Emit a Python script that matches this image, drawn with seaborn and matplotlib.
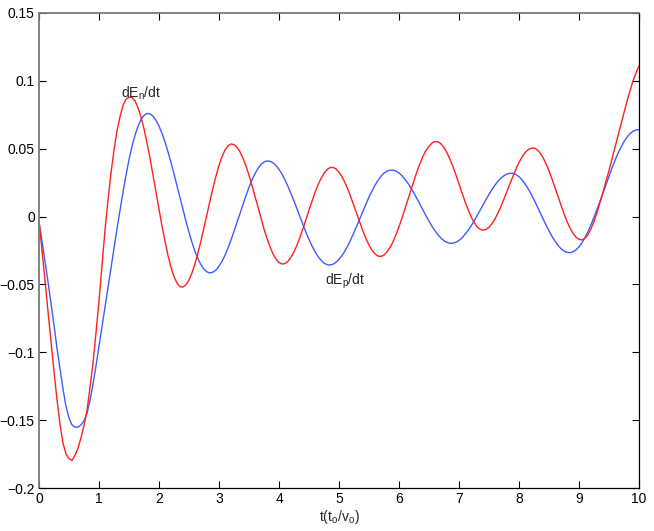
import numpy as np
import matplotlib
matplotlib.use("Agg")
import matplotlib.pyplot as plt
import seaborn as sns

# time axis, t(t_o/v_o), sampled every 0.05
t = np.linspace(0, 10, 201)

# dE_n/dt (red)
dEn = [-0.003, -0.025, -0.047, -0.070, -0.092, -0.114, -0.135, -0.153, -0.167, -0.175,
       -0.1785, -0.1797, -0.176, -0.1705, -0.163, -0.154, -0.143, -0.126, -0.108, -0.0855,
       -0.062, -0.036, -0.010, 0.012, 0.032, 0.049, 0.063, 0.0735, 0.082, 0.0865,
       0.0880, 0.0878, 0.0853, 0.0802, 0.0734, 0.0647, 0.0544, 0.043, 0.0306, 0.018,
       0.0053, -0.007, -0.0184, -0.0287, -0.0374, -0.0443, -0.049, -0.0516, -0.0519, -0.0502,
       -0.0467, -0.0415, -0.0348, -0.0267, -0.0178, -0.0082, 0.0017, 0.0117, 0.0212, 0.0299,
       0.0377, 0.0441, 0.049, 0.0521, 0.0535, 0.0530, 0.0511, 0.0477, 0.043, 0.0372,
       0.0304, 0.0229, 0.0149, 0.0068, -0.0013, -0.0090, -0.0162, -0.0223, -0.0275, -0.0314,
       -0.0339, -0.0350, -0.0346, -0.0329, -0.0300, -0.0259, -0.0210, -0.0152, -0.0088, -0.0021,
       0.0047, 0.0114, 0.0177, 0.0234, 0.0281, 0.0319, 0.0346, 0.0361, 0.0362, 0.0351,
       0.0328, 0.0294, 0.0250, 0.0199, 0.0140, 0.0078, 0.0015, -0.0048, -0.0108, -0.0163,
       -0.0210, -0.0248, -0.0275, -0.0291, -0.0294, -0.0283, -0.0261, -0.0228, -0.0186, -0.0133,
       -0.0075, -0.0010, 0.0059, 0.0129, 0.0199, 0.0268, 0.0333, 0.0391, 0.0444, 0.0487,
       0.0519, 0.0542, 0.0553, 0.0551, 0.0536, 0.0509, 0.0470, 0.0422, 0.0367, 0.0305,
       0.0240, 0.0175, 0.0111, 0.0053, 0.0000, -0.0043, -0.0074, -0.0093, -0.0100, -0.0095,
       -0.0079, -0.0052, -0.0017, 0.0026, 0.0075, 0.0130, 0.0186, 0.0243, 0.0298, 0.0351,
       0.0398, 0.0438, 0.0470, 0.0492, 0.0504, 0.0505, 0.0494, 0.0470, 0.0435, 0.0390,
       0.0337, 0.0277, 0.0213, 0.0147, 0.0083, 0.0021, -0.0036, -0.0084, -0.0124, -0.0152,
       -0.0168, -0.0172, -0.0160, -0.0133, -0.0090, -0.0035, 0.0030, 0.0103, 0.0180, 0.0260,
       0.0340, 0.0425, 0.0510, 0.0595, 0.0680, 0.0765, 0.0850, 0.0927, 0.1000, 0.1060,
       0.1110]

# dE_p/dt (blue)
dEp = [-0.004, -0.018, -0.033, -0.048, -0.064, -0.080, -0.097, -0.112, -0.127, -0.140,
       -0.1485, -0.1535, -0.1552, -0.1551, -0.1535, -0.1505, -0.145, -0.1355, -0.1235, -0.110,
       -0.0955, -0.081, -0.067, -0.0525, -0.038, -0.0235, -0.009, 0.0047, 0.018, 0.0305,
       0.042, 0.0518, 0.060, 0.0665, 0.0715, 0.0745, 0.076, 0.0757, 0.074, 0.0709,
       0.0667, 0.0613, 0.055, 0.0477, 0.0398, 0.0314, 0.0226, 0.0139, 0.005, -0.0035,
       -0.0115, -0.0190, -0.0257, -0.0311, -0.0356, -0.0388, -0.0408, -0.0415, -0.0409, -0.0394,
       -0.0366, -0.0330, -0.0285, -0.0232, -0.0172, -0.0109, -0.0043, 0.0024, 0.0091, 0.0155,
       0.0215, 0.0269, 0.0316, 0.0355, 0.0384, 0.0402, 0.0410, 0.0407, 0.0396, 0.0376,
       0.0348, 0.0313, 0.0269, 0.0222, 0.0169, 0.0115, 0.0056, -0.0002, -0.0060, -0.0117,
       -0.0169, -0.0216, -0.0259, -0.0294, -0.0322, -0.0343, -0.0354, -0.0357, -0.0351, -0.0337,
       -0.0316, -0.0288, -0.0253, -0.0212, -0.0166, -0.0117, -0.0065, -0.0013, 0.0041, 0.0093,
       0.0144, 0.0189, 0.0231, 0.0266, 0.0297, 0.0320, 0.0335, 0.0342, 0.0342, 0.0335,
       0.0321, 0.0301, 0.0274, 0.0245, 0.0210, 0.0172, 0.0132, 0.0090, 0.0048, 0.0006,
       -0.0034, -0.0072, -0.0105, -0.0135, -0.0159, -0.0178, -0.0191, -0.0197, -0.0196, -0.0189,
       -0.0176, -0.0157, -0.0131, -0.0103, -0.0070, -0.0034, 0.0005, 0.0045, 0.0085, 0.0125,
       0.0163, 0.0199, 0.0232, 0.0260, 0.0283, 0.0301, 0.0313, 0.0319, 0.0318, 0.0309,
       0.0294, 0.0271, 0.0241, 0.0207, 0.0167, 0.0124, 0.0079, 0.0031, -0.0016, -0.0062,
       -0.0105, -0.0146, -0.0182, -0.0212, -0.0237, -0.0254, -0.0264, -0.0266, -0.0260, -0.0245,
       -0.0223, -0.0193, -0.0155, -0.0111, -0.0060, -0.0006, 0.0052, 0.0112, 0.0174, 0.0237,
       0.0298, 0.0358, 0.0414, 0.0466, 0.0511, 0.0552, 0.0585, 0.0611, 0.0629, 0.0638,
       0.0640]

xticks = list(range(0, 11))
yticks = [-0.2, -0.15, -0.1, -0.05, 0, 0.05, 0.1, 0.15]
ytick_labels = ["\u22120.2", "\u22120.15", "\u22120.1", "\u22120.05", "0", "0.05", "0.1", "0.15"]

sns.set_style("ticks")
plt.rcParams["font.family"] = ["Liberation Sans", "DejaVu Sans"]
plt.rcParams["mathtext.fontset"] = "custom"
plt.rcParams["mathtext.rm"] = "Liberation Sans"
plt.rcParams["xtick.direction"] = "in"
plt.rcParams["ytick.direction"] = "in"

fig = plt.figure(figsize=(6.54, 5.31), dpi=100)
ax = fig.add_axes([39 / 654, 43 / 531, 600 / 654, 475 / 531])

sns.lineplot(x=t, y=dEp, color="#3d5cff", lw=1.0, ax=ax)
sns.lineplot(x=t, y=dEn, color="#ff1f1f", lw=1.0, ax=ax)

ax.set_xlim(0, 10)
ax.set_ylim(-0.2, 0.15)
ax.set_xticks(xticks)
ax.set_xticklabels([str(v) for v in xticks])
ax.set_yticks(yticks)
ax.set_yticklabels(ytick_labels)
ax.tick_params(axis="both", labelsize=10, length=5, width=0.8, colors="black",
               top=True, right=True, pad=3)

for side in ["left", "top"]:
    ax.spines[side].set_color("#7a7a7a")
    ax.spines[side].set_linewidth(1.3)
for side in ["bottom", "right"]:
    ax.spines[side].set_color("black")
    ax.spines[side].set_linewidth(0.9)

ax.text(1.37, 0.0905, r"dE$_\mathregular{n}$/dt", fontsize=10, va="center", ha="left")
ax.text(4.77, -0.0475, r"dE$_\mathregular{p}$/dt", fontsize=10, va="center", ha="left")

ax.set_xlabel(r"t(t$_\mathregular{o}$/v$_\mathregular{o}$)", fontsize=10, labelpad=1)
ax.set_ylabel("")

fig.savefig("out.png", dpi=100)
